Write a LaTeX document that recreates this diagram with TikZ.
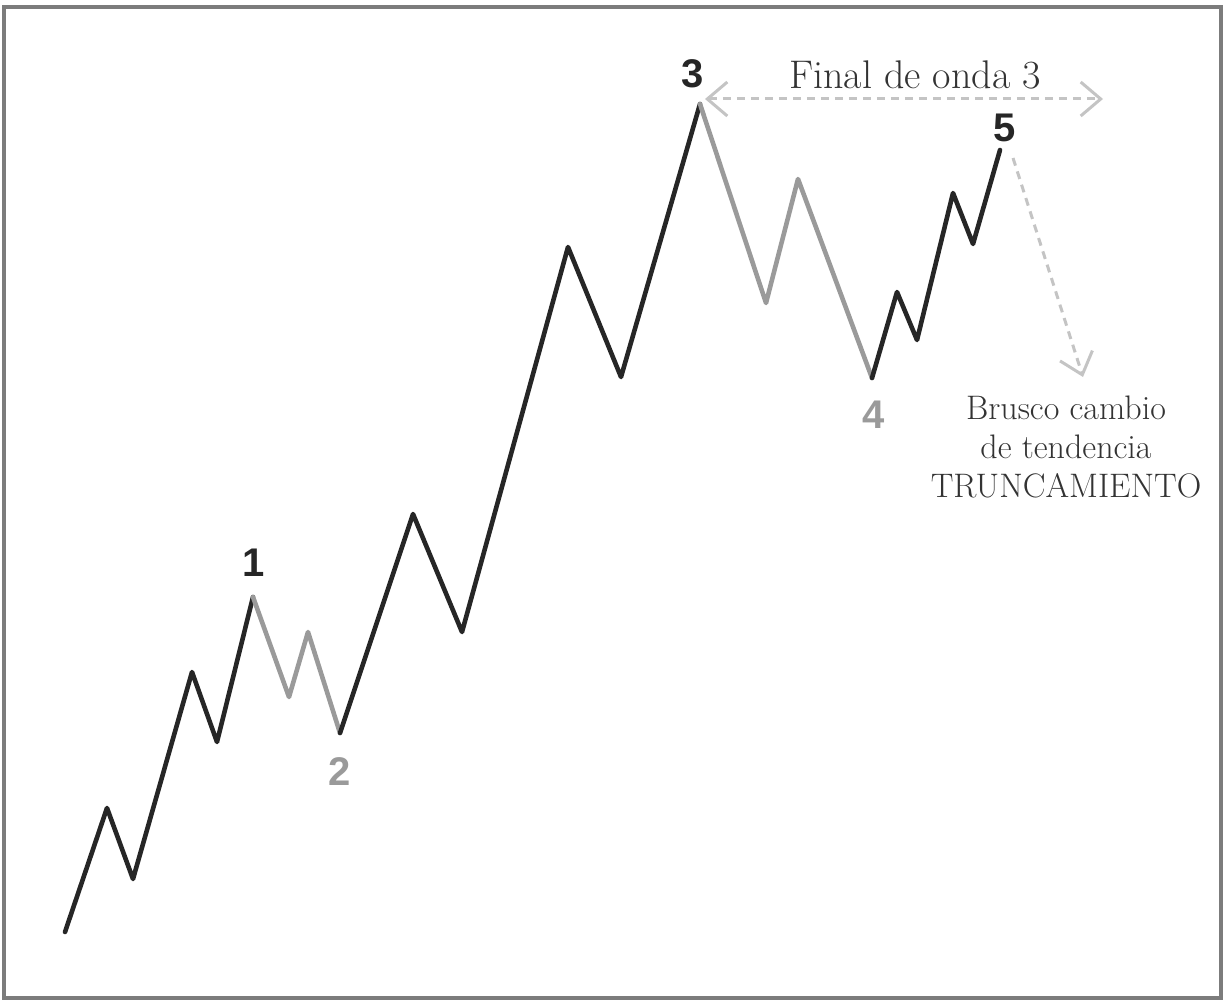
\documentclass[tikz,border=0pt]{standalone}
\usepackage{fontspec}
\newfontfamily\digitfont{Liberation Sans}
\usetikzlibrary{arrows.meta}
\definecolor{darkw}{HTML}{262626}
\definecolor{lightw}{HTML}{9A9A9A}
\definecolor{arrowc}{HTML}{C4C4C4}
\definecolor{textc}{HTML}{333333}
\definecolor{framec}{HTML}{7C7C7C}
\tikzset{barbtip/.tip={Straight Barb[length=20pt,width=34pt,line width=3pt]}}
\begin{document}
\begin{tikzpicture}[x=1pt,y=-1pt,
  mainleg/.style={draw=darkw, line width=4.6pt, line join=round, line cap=round},
  corrleg/.style={draw=lightw, line width=4.6pt, line join=round, line cap=round},
  darknum/.style={text=darkw, font=\digitfont\bfseries\fontsize{40}{40}\selectfont, inner sep=0pt},
  lightnum/.style={text=lightw, font=\digitfont\bfseries\fontsize{40}{40}\selectfont, inner sep=0pt},
  hint/.style={draw=arrowc, line width=3pt, dash pattern=on 8pt off 6pt},
  note/.style={text=textc, inner sep=0pt}
]
\useasboundingbox (0,0) rectangle (1225,1000);
\draw[framec, line width=3.5pt] (4,7) rectangle (1221,998);

% wave points
\coordinate (s0) at (65,932);
\coordinate (a1) at (107,808);
\coordinate (a2) at (133,879);
\coordinate (a3) at (192,672);
\coordinate (a4) at (217,742);
\coordinate (p1) at (253,597);
\coordinate (b1) at (289,697);
\coordinate (b2) at (308,632);
\coordinate (p2) at (340,733);
\coordinate (c1) at (413,514);
\coordinate (c2) at (462,632);
\coordinate (c3) at (568,247);
\coordinate (c4) at (621,377);
\coordinate (p3) at (700,104);
\coordinate (d1) at (766,303);
\coordinate (d2) at (798,179);
\coordinate (p4) at (872,378);
\coordinate (e1) at (897,292);
\coordinate (e2) at (917,340);
\coordinate (e3) at (953,193);
\coordinate (e4) at (973,244);
\coordinate (p5) at (1000,150);

\draw[mainleg] (s0) -- (a1) -- (a2) -- (a3) -- (a4) -- (p1);
\draw[corrleg] (p1) -- (b1) -- (b2) -- (p2);
\draw[mainleg] (p2) -- (c1) -- (c2) -- (c3) -- (c4) -- (p3);
\draw[corrleg] (p3) -- (d1) -- (d2) -- (p4);
\draw[mainleg] (p4) -- (e1) -- (e2) -- (e3) -- (e4) -- (p5);

% wave labels
\node[darknum] (n1) at (254,563) {1};
\node[lightnum] (n2) at (340,772) {2};
\node[darknum] (n3) at (693,74) {3};
\node[lightnum] (n4) at (874,415) {4};
\node[darknum] (n5) at (1005,128) {5};

% arrows
\coordinate (h0) at (705,99);
\coordinate (h1) at (1103,99);
\draw[hint, barbtip-barbtip] (h0) -- (h1);
\coordinate (t0) at (1013,158);
\coordinate (t1) at (1083,377);
\draw[hint, -barbtip] (t0) -- (t1);

% notes
\node[note, font=\fontsize{40}{40}\selectfont, anchor=base] (fin) at (915,89) {Final de onda 3};
\node[note, font=\fontsize{34}{39}\selectfont, align=center, anchor=north] (trunc) at (1066,396)
  {Brusco cambio\\de tendencia\\TRUNCAMIENTO};
\end{tikzpicture}
\end{document}
